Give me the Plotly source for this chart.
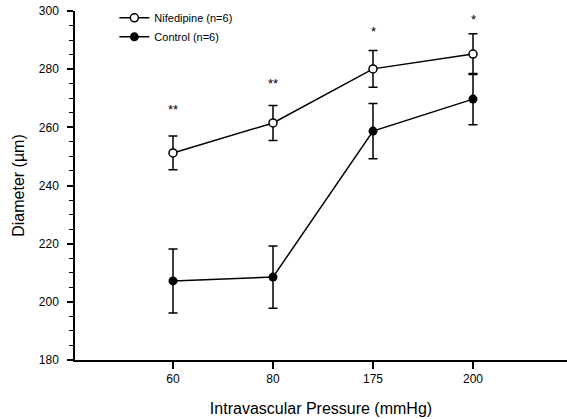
import plotly.graph_objects as go

categories = ["60", "80", "175", "200"]
nif_mean = [251.2, 261.5, 280.1, 285.2]
nif_err = [5.8, 6.0, 6.3, 7.0]
ctl_mean = [207.2, 208.5, 258.7, 269.7]
ctl_err = [11.0, 10.7, 9.5, 8.8]
sig_labels = ["**", "**", "*", "*"]
sig_y = [266, 275, 293, 297]

FONT = "Liberation Sans, Arial, sans-serif"

fig = go.Figure()
fig.add_trace(go.Scatter(
    x=categories, y=nif_mean, name="Nifedipine (n=6)", mode="lines+markers",
    line=dict(color="black", width=1.5),
    marker=dict(symbol="circle", size=8, color="white", line=dict(color="black", width=1.5)),
    error_y=dict(type="data", array=nif_err, color="black", thickness=1.5, width=4.5),
))
fig.add_trace(go.Scatter(
    x=categories, y=ctl_mean, name="Control (n=6)", mode="lines+markers",
    line=dict(color="black", width=1.5),
    marker=dict(symbol="circle", size=9, color="black"),
    error_y=dict(type="data", array=ctl_err, color="black", thickness=1.5, width=4.5),
))

for i, (lab, yv) in enumerate(zip(sig_labels, sig_y)):
    fig.add_annotation(x=i, y=yv, text=lab, showarrow=False,
                       font=dict(family=FONT, size=13, color="black"))

fig.update_layout(
    width=567, height=419,
    margin=dict(l=75, r=0, t=11, b=59, autoexpand=False),
    paper_bgcolor="white", plot_bgcolor="white",
    font=dict(family=FONT, size=11, color="black"),
    showlegend=True,
    legend=dict(x=0.08, y=1.022, xanchor="left", yanchor="top",
                bgcolor="rgba(0,0,0,0)", font=dict(size=11, color="black"),
                itemwidth=30, tracegroupgap=0),
    xaxis=dict(
        type="category", range=[-0.98, 3.94], automargin=False,
        showline=True, linecolor="black", linewidth=1.5,
        ticks="outside", ticklen=7, tickwidth=1.5, tickcolor="black",
        tickfont=dict(size=12, color="black"),
        showgrid=False, zeroline=False,
        title=dict(text="Intravascular Pressure (mmHg)", font=dict(size=16, color="black"), standoff=18),
    ),
    yaxis=dict(
        range=[180, 300], tick0=180, dtick=20, automargin=False,
        showline=True, linecolor="black", linewidth=1.5,
        ticks="outside", ticklen=6, tickwidth=1.5, tickcolor="black",
        tickfont=dict(size=12, color="black"), ticklabelstandoff=6,
        minor=dict(dtick=5, tick0=180, ticks="outside", ticklen=4, tickcolor="black", tickwidth=1),
        showgrid=False, zeroline=False,
        title=dict(text="Diameter (µm)", font=dict(size=16, color="black"), standoff=10),
    ),
)

fig.write_html("out.html", config={"displayModeBar": False},
               post_script="document.body.style.margin='0px';")
